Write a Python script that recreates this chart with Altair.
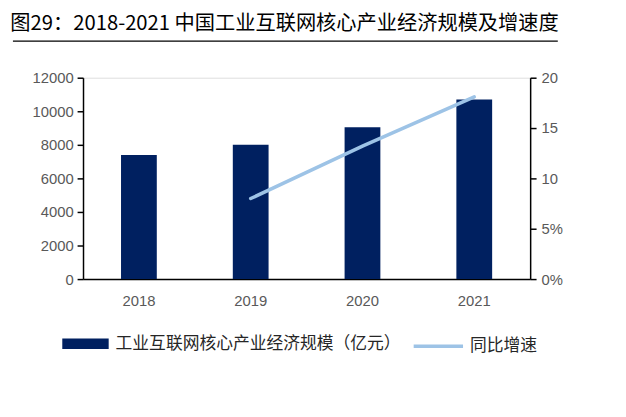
import altair as alt
import pandas as pd

years = ["2018", "2019", "2020", "2021"]
scale_values = [7400, 8000, 9050, 10700]
growth_values = [None, 8.0, 13.2, 18.1]

bar_name = "工业互联网核心产业经济规模（亿元）"
line_name = "同比增速"
title_text = "图29：2018-2021 中国工业互联网核心产业经济规模及增速度"

df_bar = pd.DataFrame({"year": years, "value": scale_values, "series": bar_name})
df_line = pd.DataFrame({"year": years, "growth": growth_values, "series": line_name}).dropna()

num_font = "Liberation Sans"
cjk_font = "Noto Sans CJK SC"
lab_color = "#595959"

x_enc = alt.X("year:N", sort=years, title=None,
              scale=alt.Scale(paddingInner=0.68, paddingOuter=0.34),
              axis=alt.Axis(labelAngle=0, ticks=False, domainColor="#000000", domainWidth=1.5,
                            labelColor=lab_color, labelFont=num_font, labelFontSize=15,
                            labelPadding=15))

bars = alt.Chart(df_bar).mark_bar(color="#002060").encode(
    x=x_enc,
    y=alt.Y("value:Q", title=None,
            scale=alt.Scale(domain=[0, 12000]),
            axis=alt.Axis(values=[0, 2000, 4000, 6000, 8000, 10000, 12000], grid=False, format="d",
                          domainColor="#000000", domainWidth=1.5, tickColor="#000000",
                          tickSize=6, tickWidth=1.5, labelColor=lab_color, labelFont=num_font,
                          labelFontSize=15, labelPadding=4)),
    color=alt.Color("series:N", scale=alt.Scale(domain=[bar_name], range=["#002060"]),
                    legend=alt.Legend(title=None, orient="none", legendX=-21, legendY=246,
                                      symbolType="M-1,-0.23H1V0.23H-1Z", symbolSize=2209,
                                      symbolStrokeWidth=0, labelFont=cjk_font, labelFontSize=17,
                                      labelColor="#262626", labelOffset=7, labelLimit=0,
                                      padding=0)),
)

line = alt.Chart(df_line).mark_line(strokeWidth=3.5, color="#9DC3E6", strokeCap="round").encode(
    x=alt.X("year:N", sort=years),
    y=alt.Y("growth:Q", title=None,
            scale=alt.Scale(domain=[0, 20]),
            axis=alt.Axis(orient="right", values=[0, 5, 10, 15, 20], grid=False,
                          labelExpr="datum.value <= 5 ? datum.value + '%' : datum.label",
                          domainColor="#000000", domainWidth=1.5, tickColor="#000000",
                          tickSize=6, tickWidth=1.5, labelColor=lab_color, labelFont=num_font,
                          labelFontSize=15, labelPadding=5)),
    stroke=alt.Stroke("series:N", scale=alt.Scale(domain=[line_name], range=["#9DC3E6"]),
                      legend=alt.Legend(title=None, orient="none", legendX=333, legendY=245,
                                        symbolType="stroke", symbolSize=2500,
                                        symbolStrokeWidth=3.5, labelFont=cjk_font,
                                        labelFontSize=17, labelColor="#262626",
                                        labelOffset=5, labelLimit=0, padding=0)),
)

underline = alt.Chart(pd.DataFrame({"k": [0]})).mark_rule(color="#000000", strokeWidth=1.2).encode(
    x=alt.value(-71), x2=alt.value(481), y=alt.value(-37)
)

chart = alt.layer(bars, line, underline).resolve_scale(
    y="independent", color="independent", stroke="independent"
).properties(
    width=453, height=204,
    autosize=alt.AutoSizeParams(type="none"),
    padding={"left": 76, "top": 68, "right": 89, "bottom": 129},
    title=alt.TitleParams(title_text, anchor="start", dx=-2, offset=6, font=cjk_font,
                          fontSize=20.5, fontWeight="normal", color="#000000"),
).configure_view(stroke=None).configure(background="#ffffff")

chart.save("out.html", embed_options={"renderer": "svg", "actions": False})
